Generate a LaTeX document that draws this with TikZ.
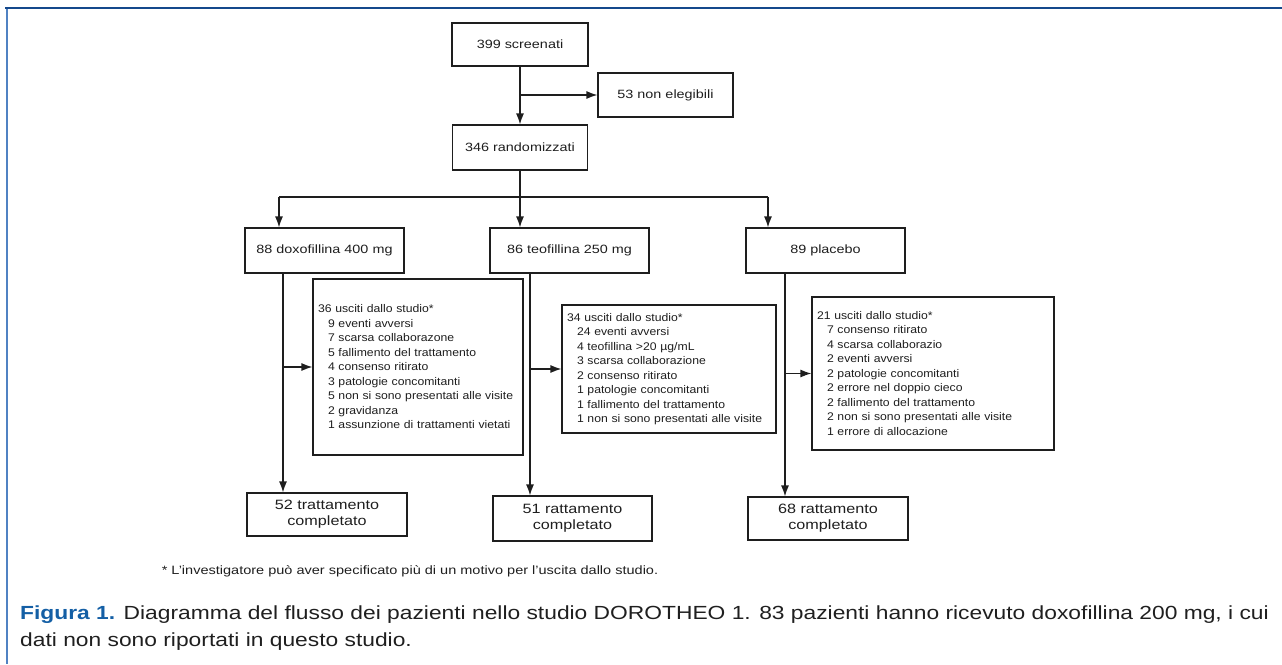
\documentclass[tikz,border=0pt]{standalone}
\usepackage{fontspec}
\setmainfont{Liberation Sans}[FakeStretch=1.2]
\newfontfamily\listfont{Liberation Sans}[FakeStretch=1.1]
\usetikzlibrary{arrows.meta, positioning}

\definecolor{framedark}{RGB}{20,72,140}
\definecolor{framelight}{RGB}{80,130,195}
\definecolor{capblue}{RGB}{20,95,165}
\definecolor{inkgray}{RGB}{30,30,30}

\newcommand{\ind}{\hspace*{10pt}}

\begin{document}
\begin{tikzpicture}[
        x=1pt, y=-1pt,
        box/.style={
            rectangle,
            draw=inkgray,
            line width=1.2pt,
            inner sep=0pt,
            text centered,
            text=inkgray
        },
        toplabel/.style={box, font=\fontsize{12}{14}\selectfont},
        arm/.style={box, minimum width=159pt, minimum height=45pt, font=\fontsize{12}{14}\selectfont},
        dropbox/.style={box, align=left, inner xsep=5pt, font=\listfont\fontsize{11.1}{14.5}\selectfont},
        endbox/.style={box, align=center, font=\fontsize{13.5}{16}\selectfont},
        arrow/.style={
            line width=1.2pt,
            draw=inkgray,
            -{Latex[length=11pt, width=8pt]}
        },
        line/.style={line width=1.2pt, draw=inkgray}
    ]
    \useasboundingbox (0,0) rectangle (1282,664);

    % Frame
    \draw[framelight, line width=2pt] (6.5,8) -- (6.5,664);
    \draw[framedark, line width=2.5pt] (5,8) -- (1282,8);

    % Nodes
    \node (screen) [toplabel, minimum width=136pt, minimum height=43pt] at (520,44.5) {399 screenati};
    \node (noneleg) [toplabel, minimum width=135pt, minimum height=44pt] at (665.5,95) {53 non elegibili};
    \node (random) [toplabel, minimum width=135pt, minimum height=45pt] at (520,147.5) {346 randomizzati};

    \node (doxo) [arm] at (324.5,250.5) {88 doxofillina 400 mg};
    \node (teo) [arm] at (569.5,250.5) {86 teofillina 250 mg};
    \node (plac) [arm] at (825.5,250.5) {89 placebo};

    \node (dropdoxo) [dropbox, text width=200pt, minimum height=176pt] at (418,367) {36 usciti dallo studio*\\
        \ind 9 eventi avversi\\
        \ind 7 scarsa collaborazone\\
        \ind 5 fallimento del trattamento\\
        \ind 4 consenso ritirato\\
        \ind 3 patologie concomitanti\\
        \ind 5 non si sono presentati alle visite\\
        \ind 2 gravidanza\\
        \ind 1 assunzione di trattamenti vietati};
    \node (dropteo) [dropbox, text width=204pt, minimum height=128pt] at (669,369) {34 usciti dallo studio*\\
        \ind 24 eventi avversi\\
        \ind 4 teofillina >20 µg/mL\\
        \ind 3 scarsa collaborazione\\
        \ind 2 consenso ritirato\\
        \ind 1 patologie concomitanti\\
        \ind 1 fallimento del trattamento\\
        \ind 1 non si sono presentati alle visite};
    \node (dropplac) [dropbox, text width=232pt, minimum height=153pt] at (933,373.5) {21 usciti dallo studio*\\
        \ind 7 consenso ritirato\\
        \ind 4 scarsa collaborazio\\
        \ind 2 eventi avversi\\
        \ind 2 patologie concomitanti\\
        \ind 2 errore nel doppio cieco\\
        \ind 2 fallimento del trattamento\\
        \ind 2 non si sono presentati alle visite\\
        \ind 1 errore di allocazione};

    \node (enddoxo) [endbox, minimum width=160pt, minimum height=43pt] at (327,514.5) {52 trattamento\\completato};
    \node (endteo) [endbox, minimum width=159pt, minimum height=45pt] at (572.5,518.5) {51 rattamento\\completato};
    \node (endplac) [endbox, minimum width=160pt, minimum height=43pt] at (828,518.5) {68 rattamento\\completato};

    % Split points
    \coordinate (split) at (520,197);
    \coordinate (leftsplit) at (279,197);
    \coordinate (rightsplit) at (768,197);
    \coordinate (doxoline) at (283,273);
    \coordinate (teoline) at (530,273);
    \coordinate (placline) at (785,273);

    % Arrows
    \draw [arrow] (screen) -- (random);
    \draw [arrow] (screen.south |- noneleg.west) -- (noneleg.west);
    \draw [line] (random) -- (split);
    \draw [line] (leftsplit) -- (rightsplit);
    \draw [arrow] (leftsplit) -- (leftsplit |- doxo.north);
    \draw [arrow] (split) -- (split |- teo.north);
    \draw [arrow] (rightsplit) -- (rightsplit |- plac.north);

    \draw [arrow] (doxoline) -- (doxoline |- enddoxo.north);
    \draw [arrow] (doxoline |- dropdoxo.west) -- (dropdoxo.west);
    \draw [arrow] (teoline) -- (teoline |- endteo.north);
    \draw [arrow] (teoline |- dropteo.west) -- (dropteo.west);
    \draw [arrow] (placline) -- (placline |- endplac.north);
    \draw [arrow] (placline |- dropplac.west) -- (dropplac.west);

    % Footnote and caption
    \node (note) [anchor=base, text=inkgray, font=\fontsize{12.1}{14}\selectfont] at (410,574) {* L'investigatore può aver specificato più di un motivo per l'uscita dallo studio.};
    \node (caption) [anchor=base west, align=left, inner sep=0pt, text=black!88, font=\fontsize{19}{27}\selectfont] at (20,646) {\textcolor{capblue}{\textbf{Figura 1.}} Diagramma del flusso dei pazienti nello studio DOROTHEO 1. 83 pazienti hanno ricevuto doxofillina 200 mg, i cui\\dati non sono riportati in questo studio.};

\end{tikzpicture}
\end{document}
